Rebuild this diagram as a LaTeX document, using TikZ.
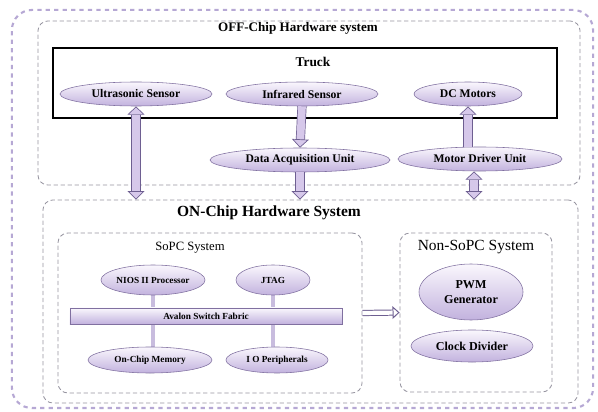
\documentclass[tikz,border=0pt]{standalone}
\usepackage{fontspec}
\setmainfont{Liberation Serif}
\usetikzlibrary{shapes.geometric,arrows.meta}
\definecolor{framepurple}{RGB}{182,168,212}
\definecolor{boxgray}{RGB}{150,148,160}
\definecolor{elltop}{RGB}{250,247,253}
\definecolor{ellbot}{RGB}{194,178,222}
\definecolor{elledge}{RGB}{128,112,160}
\definecolor{arrowfill}{RGB}{214,200,234}
\definecolor{arrowedge}{RGB}{110,95,145}
\definecolor{linkcol}{RGB}{200,188,222}

\begin{document}
\begin{tikzpicture}[x=0.025cm, y=-0.025cm,
  every node/.style={font=\rmfamily\bfseries\fontsize{8.3}{9}\selectfont},
  ell/.style={draw=elledge, ellipse, top color=elltop, bottom color=ellbot, inner sep=0pt, minimum height=0.6cm},
  sub/.style={font=\rmfamily\bfseries\fontsize{6.6}{8}\selectfont},
  dotbox/.style={draw=boxgray, densely dashed, rounded corners=0.25cm, line width=0.6pt},
  fat/.style={draw=arrowedge, line width=0.5pt, double=arrowfill, double distance=5.5pt,
    >={Triangle[length=6pt, width=12pt, line width=0.5pt, fill=arrowfill]}},
  hollow/.style={draw=arrowedge, line width=0.7pt, double=white, double distance=3pt,
    >={Triangle[length=5pt, width=9pt, line width=0.7pt, fill=white]}},
  link/.style={draw=linkcol, line width=2.2pt}]
  \useasboundingbox (0,0) rectangle (598,412);
  \node [draw=framepurple, dashed, line width=1.5pt, rounded corners=0.5cm, minimum width=14.525cm, minimum height=9.95cm] (frame) at (302.5,209) {};
  \node [dotbox, minimum width=13.55cm, minimum height=4.1cm] (off) at (309,103) {};
  \node [draw, line width=1.2pt, minimum width=12.6cm, minimum height=1.75cm] (truck) at (305,83) {};
  \node [dotbox, minimum width=13.375cm, minimum height=5.075cm] (on) at (310.5,301.5) {};
  \node [dotbox, minimum width=7.6cm, minimum height=4cm] (sopc) at (210,313) {};
  \node [dotbox, minimum width=3.8cm, minimum height=3.975cm] (non) at (476,312.5) {};

  \node [font=\rmfamily\bfseries\fontsize{9.3}{11}\selectfont] (offtitle) at (298,28) {OFF-Chip Hardware system};
  \node [font=\rmfamily\bfseries\fontsize{9.5}{11}\selectfont] (trucktitle) at (313,62) {Truck};
  \node [font=\rmfamily\bfseries\fontsize{11}{13}\selectfont] (ontitle) at (269,213) {ON-Chip Hardware System};
  \node [font=\rmfamily\fontsize{9}{11}\selectfont] (sopctitle) at (190,248) {SoPC System};
  \node [font=\rmfamily\fontsize{11}{13}\selectfont] (nontitle) at (476,247) {Non-SoPC System};

  \node [ell, minimum width=3.8cm] (us) at (136,94) {Ultrasonic Sensor};
  \node [ell, minimum width=3.8cm] (ir) at (302,94) {Infrared Sensor};
  \node [ell, minimum width=2.7cm] (dc) at (468,94) {DC Motors};
  \node [ell, minimum width=4.5cm] (dau) at (300,160) {Data Acquisition Unit};
  \node [ell, minimum width=4.1cm] (mdu) at (480,159) {Motor Driver Unit};

  \draw [link] (153,290) -- (153,350);
  \draw [link] (273,290) -- (273,350);
  \node [ell, sub, minimum width=2.6cm, minimum height=0.75cm] (nios) at (153,280) {NIOS II Processor};
  \node [ell, sub, minimum width=1.85cm, minimum height=0.75cm] (jtag) at (273,280) {JTAG};
  \node [draw=elledge, top color=elltop, bottom color=ellbot, sub, minimum width=6.8cm, minimum height=0.4cm, inner sep=0pt] (bus) at (206,316) {Avalon Switch Fabric};
  \node [ell, sub, minimum width=3.1cm, minimum height=0.65cm] (mem) at (150,360) {On-Chip Memory};
  \node [ell, sub, minimum width=2.55cm, minimum height=0.65cm] (io) at (277,360) {I O Peripherals};
  \node [ell, align=center, font=\rmfamily\bfseries\fontsize{8.6}{11}\selectfont, minimum width=2.6cm, minimum height=1.4cm] (pwm) at (471,292) {PWM\\Generator};
  \node [ell, font=\rmfamily\bfseries\fontsize{8.6}{10}\selectfont, minimum width=3.05cm, minimum height=0.8cm] (clk) at (472,346) {Clock Divider};

  \draw [fat, <->] (us.south) -- (us.south |- on.north);
  \draw [fat, ->] (ir.south) -- (dau.north);
  \draw [fat, ->] (dau.south) -- (dau.south |- on.north);
  \draw [fat, ->] (dc.south |- mdu.north) -- (dc.south);
  \draw [fat, <->] ([xshift=-0.15cm]mdu.south) -- ([xshift=-0.15cm]mdu.south |- on.north);
  \draw [hollow, ->] (sopc.east) -- (non.west);
\end{tikzpicture}
\end{document}
